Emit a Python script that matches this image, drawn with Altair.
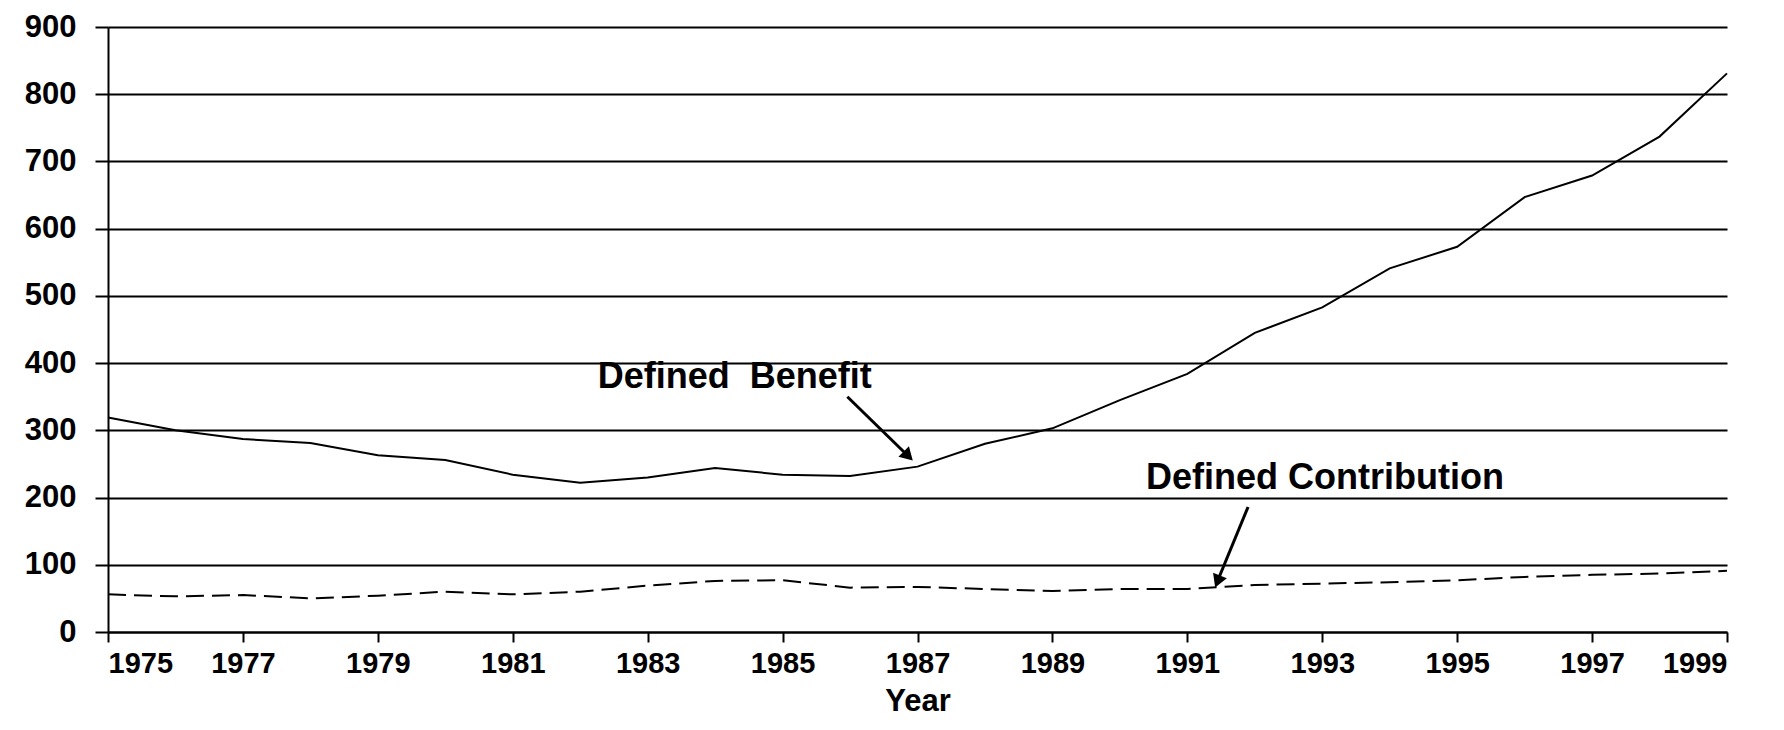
import altair as alt
import pandas as pd

years = [1975, 1976, 1977, 1978, 1979, 1980, 1981, 1982, 1983, 1984, 1985, 1986,
         1987, 1988, 1989, 1990, 1991, 1992, 1993, 1994, 1995, 1996, 1997, 1998, 1999]
defined_benefit = [319, 300, 287, 281, 263, 256, 234, 222, 230, 244, 234, 232,
                   246, 280, 303, 345, 384, 445, 483, 541, 573, 647, 679, 737, 831]
defined_contribution = [56, 53, 55, 50, 54, 60, 56, 60, 69, 76, 77, 66,
                        67, 64, 61, 64, 64, 70, 72, 74, 77, 82, 85, 87, 91]
tick_years = [1975, 1977, 1979, 1981, 1983, 1985, 1987, 1989, 1991, 1993, 1995, 1997, 1999]
y_ticks = [0, 100, 200, 300, 400, 500, 600, 700, 800, 900]

label_text = ["Defined\u00a0 Benefit", "Defined Contribution"]
label_x = [1984.29, 1993.04]
label_y = [363, 212]
arrow_x = [1985.96, 1991.9]
arrow_y = [350, 186]
arrow_x2 = [1986.88, 1991.44]
arrow_y2 = [260, 74]
head_x = [1986.84, 1991.46]
head_y = [264, 78]
head_angle = [135, 202]

FONT = "Liberation Sans"

df = pd.DataFrame({"Year": years, "DB": defined_benefit, "DC": defined_contribution})
lab = pd.DataFrame({"t": label_text, "x": label_x, "y": label_y})
arr = pd.DataFrame({"x": arrow_x, "y": arrow_y, "x2": arrow_x2, "y2": arrow_y2})
heads = pd.DataFrame({"x": head_x, "y": head_y, "a": head_angle})

xs = alt.Scale(domain=[1975, 1999], nice=False, zero=False)
ys = alt.Scale(domain=[0, 900], nice=False)

x_axis = alt.Axis(values=tick_years, format="d", title="Year", grid=False,
                  tickSize=10, tickWidth=2, tickColor="black",
                  domainColor="black", domainWidth=2,
                  labelFont=FONT, labelFontSize=29, labelFontWeight="bold",
                  labelColor="black", labelPadding=7,
                  titleFont=FONT, titleFontSize=31, titleFontWeight="bold",
                  titleColor="black", titlePadding=8)
y_axis = alt.Axis(values=y_ticks, title=None, grid=True, gridColor="black",
                  gridWidth=2, gridOpacity=1,
                  tickSize=13, tickWidth=2, tickColor="black",
                  domainColor="black", domainWidth=2,
                  labelFont=FONT, labelFontSize=31, labelFontWeight="bold",
                  labelColor="black", labelPadding=19)

base = alt.Chart(df)
db_line = base.mark_line(color="black", strokeWidth=2).encode(
    x=alt.X("Year:Q", scale=xs, axis=x_axis),
    y=alt.Y("DB:Q", scale=ys, axis=y_axis),
)
dc_line = base.mark_line(color="black", strokeWidth=2, strokeDash=[18, 8]).encode(
    x=alt.X("Year:Q", scale=xs),
    y=alt.Y("DC:Q", scale=ys),
)
texts = alt.Chart(lab).mark_text(font=FONT, fontSize=36, fontWeight="bold",
                                 color="black", align="center",
                                 baseline="alphabetic").encode(
    x=alt.X("x:Q", scale=xs), y=alt.Y("y:Q", scale=ys), text="t:N")
arrows = alt.Chart(arr).mark_rule(color="black", strokeWidth=3).encode(
    x=alt.X("x:Q", scale=xs), y=alt.Y("y:Q", scale=ys),
    x2="x2:Q", y2="y2:Q")
arrowheads = alt.Chart(heads).mark_point(shape="triangle", filled=True,
                                         color="black", opacity=1, size=220).encode(
    x=alt.X("x:Q", scale=xs), y=alt.Y("y:Q", scale=ys),
    angle=alt.Angle("a:Q", scale=None))

chart = alt.layer(db_line, dc_line, arrows, arrowheads, texts).properties(
    width=1619, height=605,
    autosize=alt.AutoSizeParams(type="none"),
    padding={"left": 100, "top": 19, "right": 40, "bottom": 90},
    background="white",
).configure_view(stroke=None)

chart.save("out.html", embed_options={"renderer": "svg", "actions": False})
